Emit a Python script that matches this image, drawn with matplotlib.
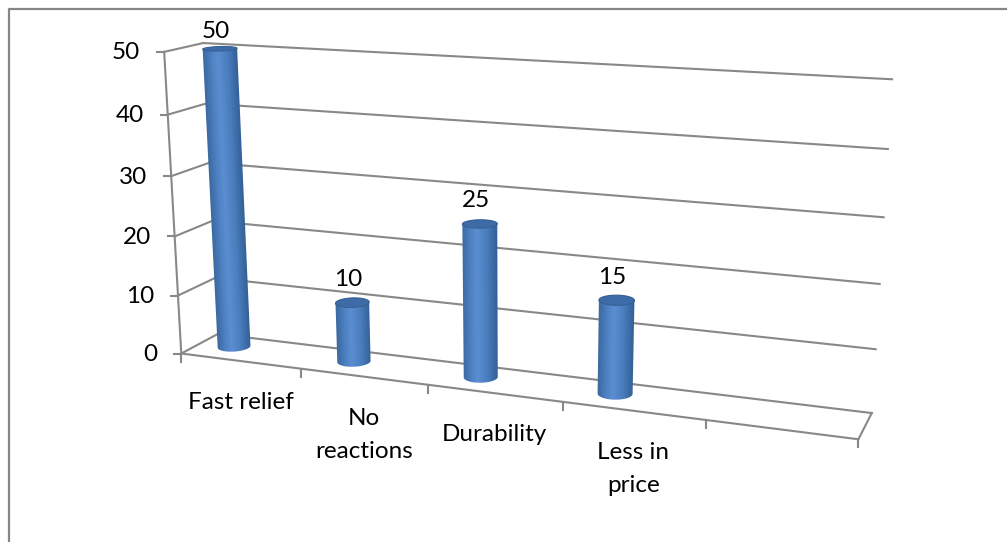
import numpy as np
import matplotlib.pyplot as plt
from matplotlib.colors import LinearSegmentedColormap
from matplotlib.patches import Polygon

plt.rcParams['font.family'] = ['Lato', 'DejaVu Sans']

categories = ['Fast relief', 'No\nreactions', 'Durability', 'Less in\nprice']
values = [50, 10, 25, 15]
y_ticks = [0, 10, 20, 30, 40, 50]
n_slots = 5          # category axis keeps one empty slot on the right
y_scale = 10.0       # world height unit = 10 value units

# corners of the 3d box (slot, value/10, depth 0=front 1=back) and where they land on the canvas
frame_world = np.array([
    [0, 5, 1], [0, 0, 1], [5, 5, 1], [5, 0, 1],
    [0, 0, 0], [5, 0, 0], [0, 5, 0], [0, 4, 0], [0, 1, 0],
    [1, 0, 0], [2, 0, 0], [3, 0, 0], [4, 0, 0],
], dtype=float)
frame_px = np.array([
    [205, 43], [216, 336], [892, 79], [872, 411],
    [182, 352], [858, 441], [163, 52], [167, 115], [178, 295],
    [303, 368], [428, 384.4], [563, 402.2], [706, 421],
], dtype=float)

# where the cylinders stand inside each slot
bar_x, bar_z = 0.28, 0.55
rx, rz = 0.12, 0.24
label_top = 31       # data labels are kept inside the chart area


def fit_projection(world, px):
    rows = []
    for (X, Y, Z), (u, v) in zip(world, px / 1000.0):
        rows.append([X, Y, Z, 1, 0, 0, 0, 0, -u * X, -u * Y, -u * Z, -u])
        rows.append([0, 0, 0, 0, X, Y, Z, 1, -v * X, -v * Y, -v * Z, -v])
    _, _, vt = np.linalg.svd(np.array(rows))
    return vt[-1].reshape(3, 4)


P = fit_projection(frame_world, frame_px)


def proj(X, Y, Z):
    X, Y, Z = np.broadcast_arrays(np.asarray(X, float), np.asarray(Y, float), np.asarray(Z, float))
    h = P @ np.vstack([X.ravel(), Y.ravel(), Z.ravel(), np.ones(X.size)])
    u = h[0] / h[2] * 1000
    v = h[1] / h[2] * 1000
    return u.reshape(X.shape), v.reshape(X.shape)


def convex_hull(pts):
    pts = sorted(map(tuple, pts))

    def cross(o, a, b):
        return (a[0] - o[0]) * (b[1] - o[1]) - (a[1] - o[1]) * (b[0] - o[0])

    lower = []
    for p in pts:
        while len(lower) >= 2 and cross(lower[-2], lower[-1], p) <= 0:
            lower.pop()
        lower.append(p)
    upper = []
    for p in reversed(pts):
        while len(upper) >= 2 and cross(upper[-2], upper[-1], p) <= 0:
            upper.pop()
        upper.append(p)
    return np.array(lower[:-1] + upper[:-1])


W, H = 1007, 542
fig = plt.figure(figsize=(W / 100, H / 100), dpi=100)
ax = fig.add_axes([0, 0, 1, 1])
ax.set_xlim(0, W)
ax.set_ylim(H, 0)
ax.axis('off')

grid_c = '#888888'
lw = 1.5
fs = 17.5

# outer chart border (only left and top show)
ax.plot([8.5, 8.5, W + 5], [H + 5, 8.5, 8.5], color='#868686', lw=1.6, zorder=1)

# back wall and side wall gridlines
for t in y_ticks:
    u, v = proj([0, n_slots], t / y_scale, 1)
    ax.plot(u, v, color=grid_c, lw=lw, zorder=2)
    u, v = proj(0, t / y_scale, [0, 1])
    ax.plot(u, v, color=grid_c, lw=lw, zorder=2)

# front value axis with ticks and labels
u, v = proj(0, [0, max(y_ticks) / y_scale], 0)
ax.plot(u, v, color=grid_c, lw=lw, zorder=2)
for t in y_ticks:
    u, v = proj(0, t / y_scale, 0)
    ax.plot([u - 7, u], [v, v], color=grid_c, lw=lw, zorder=2)
    ax.text(u - 24, v + 1, str(t), ha='right', va='center', fontsize=fs, color='black')

# floor edges
u, v = proj([0, n_slots], 0, 0)
ax.plot(u, v, color=grid_c, lw=lw, zorder=2)
u, v = proj(n_slots, 0, [0, 1])
ax.plot(u, v, color=grid_c, lw=lw, zorder=2)

# category ticks and labels
for i in range(n_slots + 1):
    u, v = proj(i, 0, 0)
    ax.plot([u, u], [v, v + 8], color=grid_c, lw=lw, zorder=2)
for i, c in enumerate(categories):
    u, v = proj(i + 0.5, 0, 0)
    ax.text(u, v + 31, c, ha='center', va='top', fontsize=fs, linespacing=1.72,
            multialignment='center', color='black')

# cylinders
body_cmap = LinearSegmentedColormap.from_list('cyl', [
    (0.0, '#3C6AA2'), (0.25, '#4F83C5'), (0.42, '#5A8ED1'),
    (0.7, '#4A7DBD'), (1.0, '#325F95')])
th = np.linspace(0, 2 * np.pi, 120)
for i, val in enumerate(values):
    xs = i + bar_x + rx * np.cos(th)
    zs = bar_z + rz * np.sin(th)
    bu, bv = proj(xs, 0, zs)
    tu, tv = proj(xs, val / y_scale, zs)
    pts = convex_hull(np.column_stack([np.r_[bu, tu], np.r_[bv, tv]]))
    body = Polygon(pts, closed=True, facecolor='none', edgecolor='none', zorder=3)
    ax.add_patch(body)

    cbu, cbv = proj(i + bar_x, 0, bar_z)
    ctu, ctv = proj(i + bar_x, val / y_scale, bar_z)
    x0, x1 = pts[:, 0].min() - 1, pts[:, 0].max() + 1
    y0, y1 = pts[:, 1].min() - 1, pts[:, 1].max() + 1
    GX, GY = np.meshgrid(np.linspace(x0, x1, 120), np.linspace(y0, y1, 400))
    frac = np.clip((GY - cbv) / (ctv - cbv), 0, 1)
    xc = cbu + frac * (ctu - cbu)
    half_b = (bu.max() - bu.min()) / 2
    half_t = (tu.max() - tu.min()) / 2
    half = half_b + frac * (half_t - half_b)
    tt = np.clip((GX - xc) / half, -1, 1)
    img = body_cmap((tt + 1) / 2)
    im = ax.imshow(img, extent=(x0, x1, y1, y0), origin='upper', aspect='auto',
                   interpolation='bilinear', zorder=3)
    im.set_clip_path(body)

    top = Polygon(np.column_stack([tu, tv]), closed=True, facecolor='#3D6BA6',
                  edgecolor='#386296', lw=0.8, zorder=4)
    ax.add_patch(top)

    ax.text(ctu - 4, max(ctv - 23, label_top), str(val), ha='center', va='center',
            fontsize=fs, color='black', zorder=5)

ax.set_xlim(0, W)
ax.set_ylim(H, 0)
fig.savefig('out.png', dpi=100)
